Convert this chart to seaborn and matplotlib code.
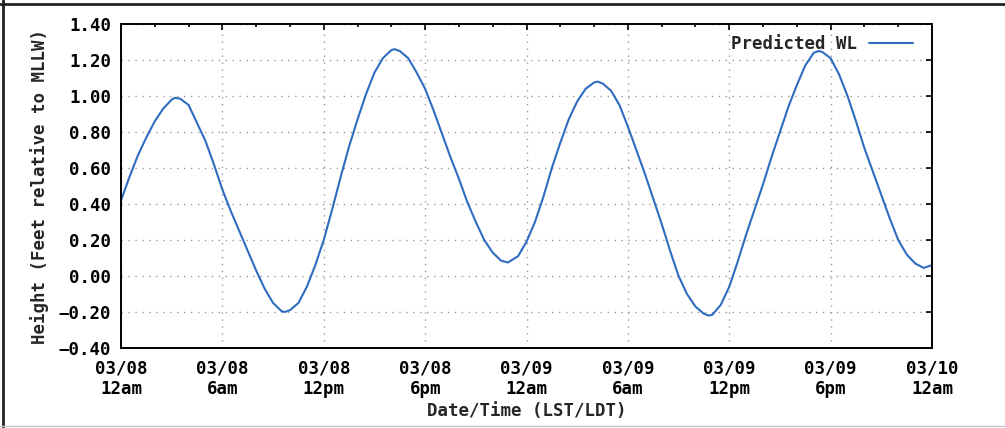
import matplotlib
matplotlib.use("Agg")
import matplotlib.pyplot as plt
from matplotlib.lines import Line2D
from matplotlib.ticker import FixedLocator, FixedFormatter, MultipleLocator
import seaborn as sns
import pandas as pd

# Predicted water level, hours since 03/08 12am (LST/LDT)
hours = [0, 0.5, 1, 1.5, 2, 2.5, 3, 3.2, 3.5, 4, 4.5, 5, 5.5, 6, 6.5, 7, 7.5, 8, 8.5,
         9, 9.5, 9.7, 10, 10.5, 11, 11.5, 12, 12.5, 13, 13.5, 14, 14.5, 15, 15.5, 16,
         16.2, 16.5, 17, 17.5, 18, 18.5, 19, 19.5, 20, 20.5, 21, 21.5, 22, 22.5, 22.9,
         23.5, 24, 24.5, 25, 25.5, 26, 26.5, 27, 27.5, 28, 28.2, 28.5, 29, 29.5, 30,
         30.5, 31, 31.5, 32, 32.5, 33, 33.5, 34, 34.5, 34.8, 35, 35.5, 36, 36.5, 37,
         37.5, 38, 38.5, 39, 39.5, 40, 40.5, 41, 41.3, 41.5, 42, 42.5, 43, 43.5, 44,
         44.5, 45, 45.5, 46, 46.5, 47, 47.5, 48]
height_ft = [0.42, 0.55, 0.67, 0.77, 0.86, 0.93, 0.98, 0.99, 0.985, 0.95, 0.85, 0.75,
             0.62, 0.48, 0.36, 0.25, 0.14, 0.03, -0.07, -0.15, -0.195, -0.20, -0.19,
             -0.15, -0.06, 0.06, 0.20, 0.37, 0.55, 0.72, 0.87, 1.01, 1.13, 1.21, 1.255,
             1.26, 1.25, 1.21, 1.13, 1.04, 0.92, 0.79, 0.66, 0.54, 0.41, 0.30, 0.20,
             0.13, 0.085, 0.075, 0.11, 0.19, 0.30, 0.44, 0.60, 0.74, 0.87, 0.97, 1.04,
             1.075, 1.08, 1.07, 1.03, 0.95, 0.83, 0.70, 0.57, 0.43, 0.29, 0.14, 0.00,
             -0.10, -0.17, -0.21, -0.22, -0.215, -0.16, -0.06, 0.08, 0.23, 0.37, 0.51,
             0.66, 0.80, 0.94, 1.06, 1.17, 1.24, 1.25, 1.245, 1.21, 1.12, 1.00, 0.86,
             0.71, 0.58, 0.45, 0.32, 0.20, 0.12, 0.07, 0.045, 0.06]

x_tick_hours = [0, 6, 12, 18, 24, 30, 36, 42, 48]
x_tick_labels = ["03/08\n12am", "03/08\n6am", "03/08\n12pm", "03/08\n6pm",
                 "03/09\n12am", "03/09\n6am", "03/09\n12pm", "03/09\n6pm",
                 "03/10\n12am"]
y_ticks = [-0.4, -0.2, 0.0, 0.2, 0.4, 0.6, 0.8, 1.0, 1.2, 1.4]
y_tick_labels = ["\u22120.40", "\u22120.20", "0.00", "0.20", "0.40", "0.60",
                 "0.80", "1.00", "1.20", "1.40"]

series_name = "Predicted WL"
line_color = "#2f6cc0"

sns.set_style("white")
plt.rcParams["font.family"] = ["DejaVu Sans Mono", "DejaVu Sans"]
plt.rcParams["font.weight"] = "bold"

df = pd.DataFrame({"hours": hours, "height": height_ft})

fig = plt.figure(figsize=(10.05, 4.28), dpi=100)
ax = fig.add_axes([121 / 1005, 1 - 348 / 428, (932 - 121) / 1005, (348 - 24) / 428])

sns.lineplot(data=df, x="hours", y="height", ax=ax, color=line_color,
             linewidth=1.5, label=series_name)

ax.set_xlim(0, 48)
ax.set_ylim(-0.4, 1.4)

ax.xaxis.set_major_locator(FixedLocator(x_tick_hours))
ax.xaxis.set_major_formatter(FixedFormatter(x_tick_labels))
ax.xaxis.set_minor_locator(MultipleLocator(2))
ax.yaxis.set_major_locator(FixedLocator(y_ticks))
ax.yaxis.set_major_formatter(FixedFormatter(y_tick_labels))

ax.tick_params(axis="both", which="both", direction="in", top=True, right=True,
               colors="black", labelsize=12.5)
ax.tick_params(axis="both", which="major", length=4.5, width=1.2)
ax.tick_params(axis="x", which="minor", length=2.5, width=1.2)
ax.tick_params(axis="y", which="major", pad=7)
ax.tick_params(axis="x", which="major", pad=8)
for lbl in ax.get_xticklabels() + ax.get_yticklabels():
    lbl.set_fontweight("bold")
for lbl in ax.get_xticklabels():
    lbl.set_multialignment("center")

ax.grid(True, which="major", color="#9a9a9a", linestyle=(0, (1, 4)), linewidth=1.0)

for side in ax.spines.values():
    side.set_visible(True)
    side.set_color("black")
    side.set_linewidth(1.4)

ax.set_xlabel("Date/Time (LST/LDT)", fontsize=12.5, fontweight="bold", labelpad=3)
ax.set_ylabel("Height (Feet relative to MLLW)", fontsize=12.5, fontweight="bold",
              labelpad=7)

leg = ax.legend(loc="upper right", bbox_to_anchor=(0.99, 1.0), frameon=False,
                markerfirst=False, handlelength=2.5, borderaxespad=0.15,
                borderpad=0.5, handletextpad=0.7,
                prop={"weight": "bold", "size": 12.5})

# page frame
fig.add_artist(Line2D([0, 1], [1 - 3.5 / 428] * 2, transform=fig.transFigure,
                      color="#222222", linewidth=2))
fig.add_artist(Line2D([3 / 1005] * 2, [0, 1], transform=fig.transFigure,
                      color="#222222", linewidth=2))
fig.add_artist(Line2D([0, 1], [2 / 428] * 2, transform=fig.transFigure,
                      color="#c8c8c8", linewidth=1))

fig.savefig("out.png", dpi=100)
